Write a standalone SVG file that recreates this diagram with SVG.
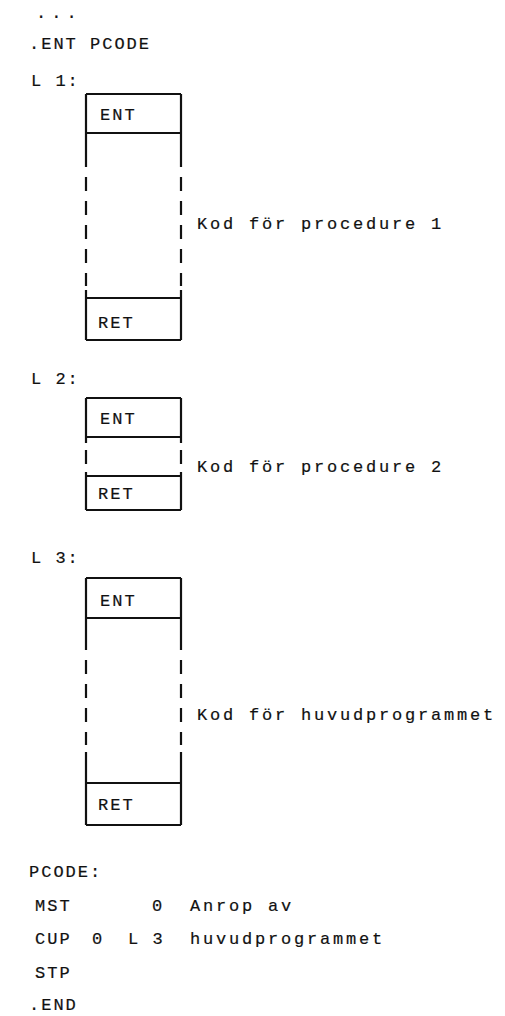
<svg xmlns="http://www.w3.org/2000/svg" width="505" height="1016" viewBox="0 0 505 1016">
<style>
text{font-family:"Liberation Mono","DejaVu Sans Mono",monospace;font-size:17px;letter-spacing:2.8px;fill:#111;stroke:#111;stroke-width:0.2}
.code{letter-spacing:2px}
.dots{letter-spacing:5px}
.box{fill:none;stroke:#111;stroke-width:2.2}
.dash{fill:none;stroke:#111;stroke-width:2.2;stroke-dasharray:14 10}
</style>
<rect width="505" height="1016" fill="#fff"/>
<text class="dots" x="36" y="18">...</text>
<text class="code" x="29" y="49">.ENT PCODE</text>
<text class="code" x="31" y="86">L 1:</text>
<g id="proc1">
<path class="box" d="M86,94H181M86,133H181M86,298H181M86,340H181M86,94V167M181,94V167M86,290V340M181,290V340"/>
<path class="dash" d="M86,177V286M181,177V286"/>
<text class="code" x="100" y="120">ENT</text>
<text class="code" x="98" y="328">RET</text>
</g>
<text x="197" y="229">Kod för procedure 1</text>
<text class="code" x="31" y="384">L 2:</text>
<g id="proc2">
<path class="box" d="M86,398H181M86,437H181M86,476H181M86,510H181M86,398V443M181,398V443M86,472V510M181,472V510"/>
<path class="dash" d="M86,450V466M181,450V466"/>
<text class="code" x="100" y="424">ENT</text>
<text class="code" x="98" y="499">RET</text>
</g>
<text x="197" y="472">Kod för procedure 2</text>
<text class="code" x="31" y="563">L 3:</text>
<g id="proc3">
<path class="box" d="M86,578H181M86,618H181M86,783H181M86,825H181M86,578V650M181,578V650M86,752V825M181,752V825"/>
<path class="dash" d="M86,660V745M181,660V745"/>
<text class="code" x="100" y="606">ENT</text>
<text class="code" x="98" y="810">RET</text>
</g>
<text x="197" y="720">Kod för huvudprogrammet</text>
<g id="pcode">
<text class="code" x="29" y="877">PCODE:</text>
<text class="code" x="35" y="911">MST</text>
<text class="code" x="152" y="911">0</text>
<text x="190" y="911">Anrop av</text>
<text class="code" x="35" y="944">CUP</text>
<text class="code" x="92" y="944">0</text>
<text class="code" x="128" y="944">L 3</text>
<text x="190" y="944">huvudprogrammet</text>
<text class="code" x="35" y="978">STP</text>
<text class="code" x="29" y="1010">.END</text>
</g>
</svg>
